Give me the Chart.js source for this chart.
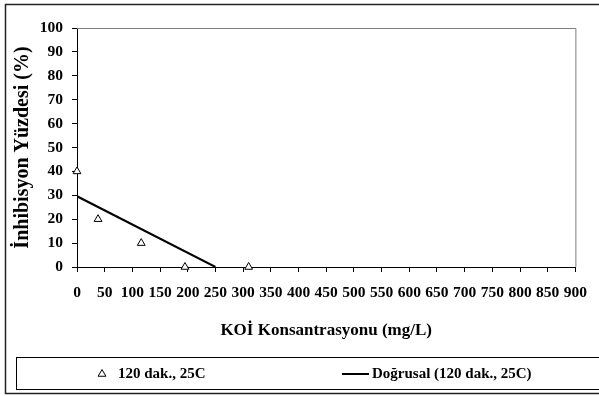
<!DOCTYPE html>
<html>
<head>
  <meta charset="utf-8">
  <title>İnhibisyon Yüzdesi</title>
  <script src="https://cdn.jsdelivr.net/npm/chart.js"></script>
  <style>
    body { margin: 0; background: #fff; }
    #wrap { width: 599px; height: 396px; }
  </style>
</head>
<body>

<div id="wrap"><canvas id="myChart"></canvas></div>

<script>
  // Ölçülen noktalar: KOİ (mg/L) ve inhibisyon (%)
  const koi = [0, 38, 116, 195, 310];
  const inhibisyon = [40, 20, 10, 0, 0];

  // Doğrusal eğilim çizgisinin uçları
  const trendKoi = [0, 250];
  const trendInh = [29.6, 0];

  // Eksen aralıkları
  const xRange = [0, 900];
  const xStep = 50;
  const yRange = [0, 100];
  const yStep = 10;

  const seriesNames = ['120 dak., 25C', 'Doğrusal (120 dak., 25C)'];
  const xTitle = 'KOİ Konsantrasyonu (mg/L)';
  const yTitle = 'İnhibisyon Yüzdesi (%)';

  const FONT = '"Liberation Serif", "Times New Roman", serif';

  // çerçeveler ve alttaki gösterge kutusu
  const framePlugin = {
    id: 'frame',
    afterDraw(chart) {
      const ctx = chart.ctx;
      const a = chart.chartArea;
      ctx.save();

      // çizim alanı çerçevesi (üst ve sağ, gri)
      ctx.strokeStyle = '#808080';
      ctx.lineWidth = 1;
      ctx.beginPath();
      ctx.moveTo(a.left, a.top + 0.5);
      ctx.lineTo(a.right + 0.5, a.top + 0.5);
      ctx.lineTo(a.right + 0.5, a.bottom);
      ctx.stroke();

      // dış çerçeve
      ctx.strokeStyle = '#222';
      ctx.lineWidth = 1.5;
      ctx.strokeRect(5.5, 4.5, 700, 389);

      // gösterge kutusu
      ctx.strokeStyle = '#000';
      ctx.lineWidth = 1;
      ctx.strokeRect(16.5, 357.5, 700, 32);

      const ly = 374;
      // üçgen işaret
      const r = 4.5;
      const mx = 102;
      ctx.beginPath();
      ctx.moveTo(mx, ly - r);
      ctx.lineTo(mx + r * Math.sin(Math.PI * 2 / 3), ly + r / 2);
      ctx.lineTo(mx - r * Math.sin(Math.PI * 2 / 3), ly + r / 2);
      ctx.closePath();
      ctx.fillStyle = '#fff';
      ctx.fill();
      ctx.strokeStyle = '#000';
      ctx.stroke();

      // çizgi işaret
      ctx.lineWidth = 2;
      ctx.beginPath();
      ctx.moveTo(342, ly);
      ctx.lineTo(369, ly);
      ctx.stroke();

      ctx.fillStyle = '#000';
      ctx.font = 'bold 15px ' + FONT;
      ctx.textBaseline = 'middle';
      ctx.textAlign = 'left';
      ctx.fillText(chart.data.datasets[0].label, 118, ly);
      ctx.fillText(chart.data.datasets[1].label, 372, ly);
      ctx.restore();
    }
  };

  const ctx = document.getElementById('myChart').getContext('2d');

  const myChart = new Chart(ctx, {
    type: 'scatter',
    data: {
      datasets: [{
        label: seriesNames[0],
        data: koi.map((x, i) => ({ x: x, y: inhibisyon[i] })),
        pointStyle: 'triangle',
        pointRadius: 4.5,
        pointBackgroundColor: '#fff',
        pointBorderColor: '#000',
        pointBorderWidth: 1,
        showLine: false,
        clip: false,
        order: 1
      }, {
        label: seriesNames[1],
        data: trendKoi.map((x, i) => ({ x: x, y: trendInh[i] })),
        showLine: true,
        borderColor: '#000',
        borderWidth: 2,
        pointRadius: 0,
        fill: false,
        order: 2
      }]
    },
    options: {
      responsive: true,
      maintainAspectRatio: false,
      animation: false,
      layout: { padding: { left: 6, right: 18, top: 28, bottom: 51 } },
      plugins: {
        legend: { display: false },
        tooltip: { enabled: false }
      },
      scales: {
        x: {
          type: 'linear',
          min: xRange[0],
          max: xRange[1],
          ticks: {
            stepSize: xStep,
            autoSkip: false,
            maxRotation: 0,
            padding: 12,
            color: '#000',
            font: { family: FONT, size: 15.5, weight: 'bold' }
          },
          grid: { drawOnChartArea: false, drawTicks: true, tickLength: 5, color: '#000' },
          border: { color: '#000', width: 1 },
          title: {
            display: true,
            text: xTitle,
            color: '#000',
            font: { family: FONT, size: 17, weight: 'bold' },
            padding: { top: 0, bottom: 4 }
          },
          afterFit: s => { s.height = 78; }
        },
        y: {
          min: yRange[0],
          max: yRange[1],
          ticks: {
            stepSize: yStep,
            padding: 9,
            color: '#000',
            font: { family: FONT, size: 15.5, weight: 'bold' }
          },
          grid: { drawOnChartArea: false, drawTicks: true, tickLength: 5, color: '#000' },
          border: { color: '#000', width: 1 },
          title: {
            display: true,
            text: yTitle,
            color: '#000',
            font: { family: FONT, size: 20, weight: 'bold' },
            padding: { top: 5, bottom: 0 }
          },
          afterFit: s => { s.width = 71; }
        }
      }
    },
    plugins: [framePlugin]
  });
</script>

</body>
</html>
